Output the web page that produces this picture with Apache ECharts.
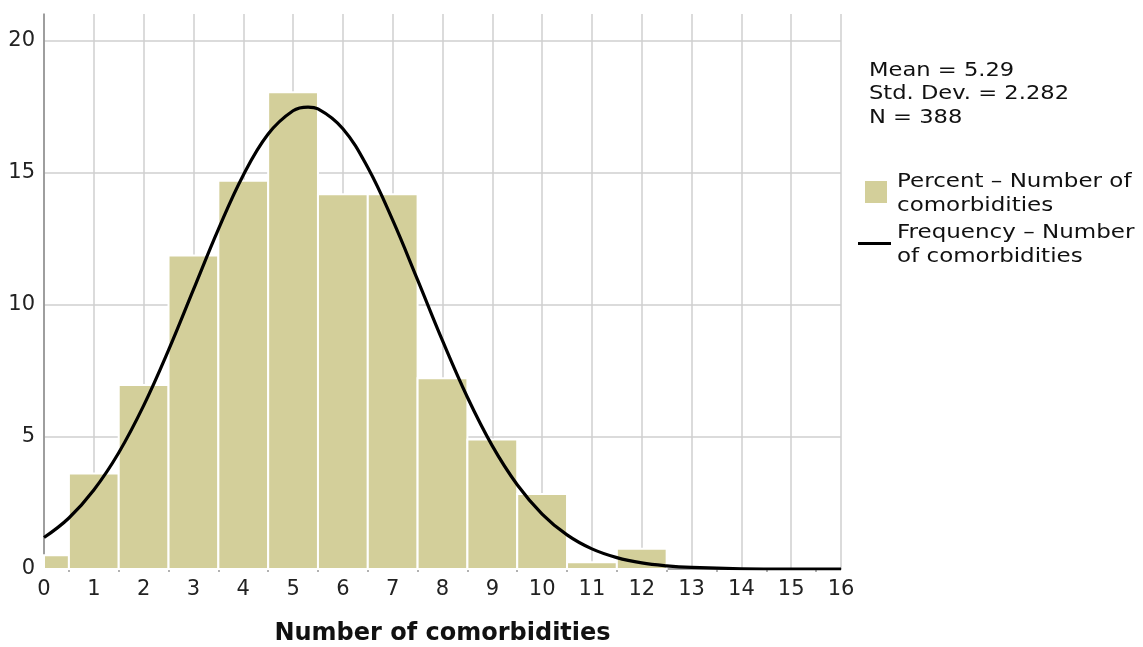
<!DOCTYPE html>
<html>
<head>
<meta charset="utf-8">
<script src="https://cdn.jsdelivr.net/npm/echarts@6/dist/echarts.min.js"></script>
<style>html,body{margin:0;padding:0;background:#fff;}#main{width:1143px;height:647px;}</style>
</head>
<body>
<div id="main"></div>
<script>
// Histogram: number of comorbidities (bar centers) and percent
const categories = [0,1,2,3,4,5,6,7,8,9,10,11,12];
const percentValues = [0.52,3.61,6.96,11.86,14.69,18.04,14.18,14.18,7.22,4.90,2.84,0.26,0.77];
// Normal curve points [x, percent]
const curveX = [0,0.5,1,1.5,2,2.5,3,3.5,4,4.5,5,5.3,5.5,6,6.5,7,7.5,8,8.5,9,9.5,10,10.5,11,11.5,12,12.5,13,14,15,16];
const curveY = [1.19,1.93,2.99,4.40,6.18,8.28,10.57,12.85,14.90,16.46,17.34,17.48,17.41,16.66,15.19,13.20,10.94,8.64,6.50,4.66,3.19,2.08,1.29,0.76,0.43,0.23,0.12,0.06,0.01,0.0,0.0];
const yTicks = [0,5,10,15,20];
const statsLines = ['Mean = 5.29','Std. Dev. = 2.282','N = 388'];
const legendBar = ['Percent – Number of','comorbidities'];
const legendLine = ['Frequency – Number','of comorbidities'];
const xTitle = 'Number of comorbidities';

const FONT = 'DejaVu Sans';
const BAR = '#d3cf9a';

const chart = echarts.init(document.getElementById('main'));
chart.setOption({
  animation: false,
  grid: {left: 44, right: 302, top: 14, bottom: 78, outerBoundsMode: 'none', containLabel: false},
  xAxis: {
    type: 'value', min: 0, max: 16, interval: 1,
    axisLine: {show: true, lineStyle: {color: '#8a8a8a', width: 1.5}},
    axisTick: {show: false},
    minorTick: {show: true, splitNumber: 2, length: 3, lineStyle: {color: '#999', width: 1.5}},
    axisLabel: {fontFamily: FONT, fontSize: 21, color: '#222', margin: 10},
    splitLine: {show: true, lineStyle: {color: '#cfcfcf', width: 1.5}}
  },
  yAxis: {
    type: 'value', min: 0, max: 21, interval: 5,
    axisLine: {show: true, lineStyle: {color: '#8a8a8a', width: 1.5}},
    axisTick: {show: false},
    axisLabel: {fontFamily: FONT, fontSize: 21, color: '#222', margin: 9, showMaxLabel: false,
      formatter: v => yTicks.indexOf(v) >= 0 ? String(v) : ''},
    splitLine: {show: true, showMinLine: false, showMaxLine: false, lineStyle: {color: '#cfcfcf', width: 1.5}}
  },
  series: [
    {
      type: 'custom',
      name: 'Percent',
      data: categories.map((c, i) => [c, percentValues[i]]),
      renderItem: function (params, api) {
        const x = api.value(0), y = api.value(1);
        const p0 = api.coord([x - 0.5, y]);
        const p1 = api.coord([x + 0.5, 0]);
        const cs = params.coordSys;
        const shape = echarts.graphic.clipRectByRect(
          {x: p0[0], y: p0[1], width: p1[0] - p0[0], height: p1[1] - p0[1]},
          {x: cs.x, y: cs.y, width: cs.width, height: cs.height});
        return shape && {
          type: 'rect', shape: shape,
          style: {fill: BAR, stroke: '#ffffff', lineWidth: 2}
        };
      },
      z: 2
    },
    {
      type: 'line',
      name: 'Frequency',
      data: curveX.map((x, i) => [x, curveY[i]]),
      smooth: 0.4,
      showSymbol: false,
      lineStyle: {color: '#000', width: 3.2},
      z: 3
    }
  ],
  graphic: [
    {type: 'text', x: 442.5, y: 634, style: {text: xTitle, font: 'bold 24px "DejaVu Sans"', fill: '#111', align: 'center', verticalAlign: 'middle'}},
    {type: 'text', x: 869, y: 59, scaleX: 1.13, style: {text: statsLines.join('\n'), font: '20px "DejaVu Sans"', lineHeight: 23.5, fill: '#111'}},
    {type: 'rect', left: 865, top: 181, shape: {width: 22, height: 22}, style: {fill: BAR}},
    {type: 'text', x: 897, y: 170, scaleX: 1.15, style: {text: legendBar.join('\n'), font: '20px "DejaVu Sans"', lineHeight: 24, fill: '#111'}},
    {type: 'rect', left: 858, top: 242, shape: {width: 33, height: 3}, style: {fill: '#000'}},
    {type: 'text', x: 897, y: 221, scaleX: 1.15, style: {text: legendLine.join('\n'), font: '20px "DejaVu Sans"', lineHeight: 24, fill: '#111'}}
  ]
});
</script>
</body>
</html>
